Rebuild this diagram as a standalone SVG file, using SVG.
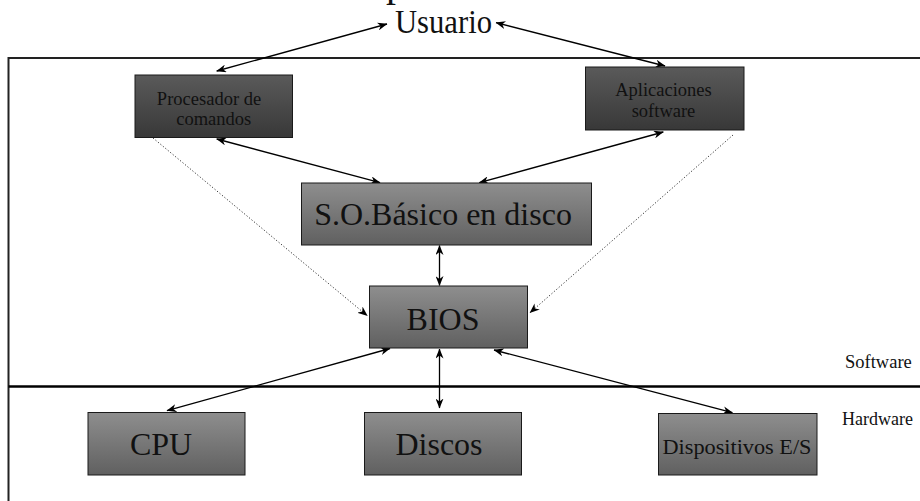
<svg xmlns="http://www.w3.org/2000/svg" width="920" height="501" viewBox="0 0 920 501">
<style>
.t{font-family:"Liberation Serif","Times New Roman",serif;fill:#111;}
.dark{fill:url(#gDark);stroke:#1a1a1a;stroke-width:1;}
.light{fill:url(#gLight);stroke:#1a1a1a;stroke-width:1;}
.c{stroke:#000;stroke-width:1.3;fill:none;marker-end:url(#ah);marker-start:url(#ah);}
.d{stroke:#333;stroke-width:1;fill:none;stroke-dasharray:1.2 2;marker-end:url(#ah);}
</style>
<defs>
<linearGradient id="gDark" x1="0" y1="0" x2="0" y2="1">
<stop offset="0" stop-color="#5a5a5a"/><stop offset="1" stop-color="#383838"/>
</linearGradient>
<linearGradient id="gLight" x1="0" y1="0" x2="0" y2="1">
<stop offset="0" stop-color="#8e8e8e"/><stop offset="1" stop-color="#606060"/>
</linearGradient>
<marker id="ah" viewBox="0 0 10 8" refX="9.5" refY="4" markerWidth="10" markerHeight="8" markerUnits="userSpaceOnUse" orient="auto-start-reverse">
<path d="M0,0 L10,4 L0,8 L3,4 z" fill="#000"/>
</marker>
</defs>
<g id="frame">
<path d="M8.5,501 V58 H920" fill="none" stroke="#222" stroke-width="2"/>
<line x1="8.5" y1="386.5" x2="920" y2="386.5" stroke="#000" stroke-width="2.5"/>
<text class="t" x="386" y="-4.4" font-size="40">p</text>
<text class="t" x="845" y="368" font-size="18.5">Software</text>
<text class="t" x="842" y="425" font-size="18">Hardware</text>
</g>
<g id="connectors">
<line class="c" x1="216.7" y1="71" x2="387" y2="24"/>
<line class="c" x1="665" y1="66" x2="496" y2="22.7"/>
<line class="c" x1="216.7" y1="139" x2="380" y2="182.7"/>
<line class="c" x1="663.3" y1="132" x2="479.3" y2="182.7"/>
<line class="c" x1="439.5" y1="245.5" x2="439.5" y2="285.5"/>
<line class="d" x1="153" y1="138" x2="367.3" y2="315.7"/>
<line class="d" x1="733" y1="135" x2="530" y2="312.7"/>
<line class="c" x1="390" y1="348.5" x2="167" y2="410.7"/>
<line class="c" x1="439.5" y1="349" x2="439.5" y2="408"/>
<line class="c" x1="494" y1="350" x2="732.4" y2="412.7"/>
</g>
<g id="usuario">
<text class="t" x="395" y="33" font-size="34" textLength="97" lengthAdjust="spacingAndGlyphs">Usuario</text>
</g>
<g id="procesador">
<rect class="dark" x="135" y="75" width="157.5" height="62.5"/>
<text class="t" x="209" y="105" font-size="18.5" text-anchor="middle">Procesador de</text>
<text class="t" x="213.7" y="125" font-size="18.5" text-anchor="middle">comandos</text>
</g>
<g id="aplicaciones">
<rect class="dark" x="585.5" y="67" width="158.5" height="63"/>
<text class="t" x="663.5" y="96" font-size="18.5" text-anchor="middle">Aplicaciones</text>
<text class="t" x="663.5" y="117" font-size="18.5" text-anchor="middle">software</text>
</g>
<g id="so">
<rect class="light" x="301.5" y="183" width="290" height="62"/>
<text class="t" x="443" y="225" font-size="32" text-anchor="middle">S.O.Básico en disco</text>
</g>
<g id="bios">
<rect class="light" x="369.5" y="286" width="158" height="62"/>
<text class="t" x="443" y="330" font-size="32" text-anchor="middle">BIOS</text>
</g>
<g id="cpu">
<rect class="light" x="88" y="412.5" width="157" height="62.5"/>
<text class="t" x="161" y="455" font-size="32" text-anchor="middle">CPU</text>
</g>
<g id="discos">
<rect class="light" x="364.5" y="412.5" width="157" height="62.5"/>
<text class="t" x="439" y="455" font-size="32" text-anchor="middle">Discos</text>
</g>
<g id="dispositivos">
<rect class="light" x="658.5" y="413.5" width="158.5" height="61.5"/>
<text class="t" x="737" y="454" font-size="21" text-anchor="middle" textLength="149" lengthAdjust="spacingAndGlyphs">Dispositivos E/S</text>
</g>
</svg>
